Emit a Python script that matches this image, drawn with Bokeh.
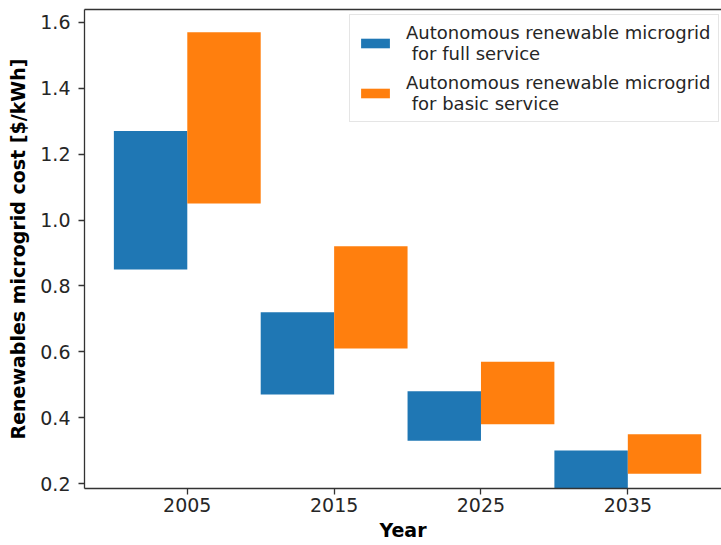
from bokeh.plotting import figure
from bokeh.models import (Range1d, FixedTicker, PrintfTickFormatter, LinearAxis,
                          Legend, LegendItem, ColumnDataSource)
from bokeh.embed import file_html
from bokeh.resources import INLINE

# ---- data ----
years = [2005, 2015, 2025, 2035]
full_low = [0.85, 0.47, 0.33, 0.185]
full_high = [1.27, 0.72, 0.48, 0.30]
basic_low = [1.05, 0.61, 0.38, 0.23]
basic_high = [1.57, 0.92, 0.57, 0.35]
y_ticks = [0.2, 0.4, 0.6, 0.8, 1.0, 1.2, 1.4, 1.6]
label_full = "Autonomous renewable microgrid\n for full service"
label_basic = "Autonomous renewable microgrid\n for basic service"

BAR_W = 5
FONT = "DejaVu Sans"
AX = "#333333"

full_src = ColumnDataSource(dict(left=[y - BAR_W for y in years], right=years,
                                 bottom=full_low, top=full_high))
basic_src = ColumnDataSource(dict(left=years, right=[y + BAR_W for y in years],
                                  bottom=basic_low, top=basic_high))

p = figure(width=721, height=545, output_backend="svg", toolbar_location=None,
           x_range=Range1d(1998, 2041.38), y_range=Range1d(0.185, 1.639),
           min_border_left=84, min_border_right=0, min_border_top=9,
           min_border_bottom=57)
p.xgrid.visible = False
p.ygrid.visible = False
p.outline_line_color = None
p.background_fill_color = "white"
p.border_fill_color = "white"

r1 = p.quad(left="left", right="right", bottom="bottom", top="top",
            source=full_src, fill_color="#1f77b4", line_color=None)
r2 = p.quad(left="left", right="right", bottom="bottom", top="top",
            source=basic_src, fill_color="#ff7f0e", line_color=None)

for ax in (p.xaxis[0], p.yaxis[0]):
    ax.axis_line_color = AX
    ax.axis_line_width = 1.3
    ax.major_tick_line_color = AX
    ax.major_tick_line_width = 1.3
    ax.major_tick_out = 6
    ax.major_tick_in = 0
    ax.minor_tick_line_color = None
    ax.major_label_text_font = FONT
    ax.major_label_text_font_size = "19px"
    ax.major_label_text_color = "#262626"
    ax.axis_label_text_font = FONT
    ax.axis_label_text_font_size = "19px"
    ax.axis_label_text_font_style = "bold"
    ax.axis_label_text_color = "black"

p.xaxis.ticker = FixedTicker(ticks=years)
p.xaxis.axis_label = "Year"
p.xaxis.major_label_standoff = 3
p.xaxis.axis_label_standoff = 4

p.yaxis.ticker = FixedTicker(ticks=y_ticks)
p.yaxis.formatter = PrintfTickFormatter(format="%.1f")
p.yaxis.axis_label = "Renewables microgrid cost [$/kWh]"
p.yaxis.major_label_standoff = 8
p.yaxis.axis_label_standoff = 8

top = LinearAxis(ticker=FixedTicker(ticks=[]), major_tick_line_color=None,
                 minor_tick_line_color=None, major_label_text_font_size="0px",
                 major_tick_out=0, major_label_standoff=0,
                 axis_line_color=AX, axis_line_width=1.3)
p.add_layout(top, "above")

legend = Legend(items=[LegendItem(label=label_full, renderers=[r1]),
                       LegendItem(label=label_basic, renderers=[r2])],
                location=(265, 366), label_text_font=FONT,
                label_text_font_size="18px", label_text_color="#262626",
                label_text_line_height=0.9,
                glyph_width=36, glyph_height=12, label_standoff=13,
                padding=7, spacing=8, margin=0,
                border_line_color="#cccccc", border_line_width=1,
                background_fill_color="white", background_fill_alpha=0.8)
p.add_layout(legend, "center")

open("out.html", "w").write(file_html(p, INLINE))
